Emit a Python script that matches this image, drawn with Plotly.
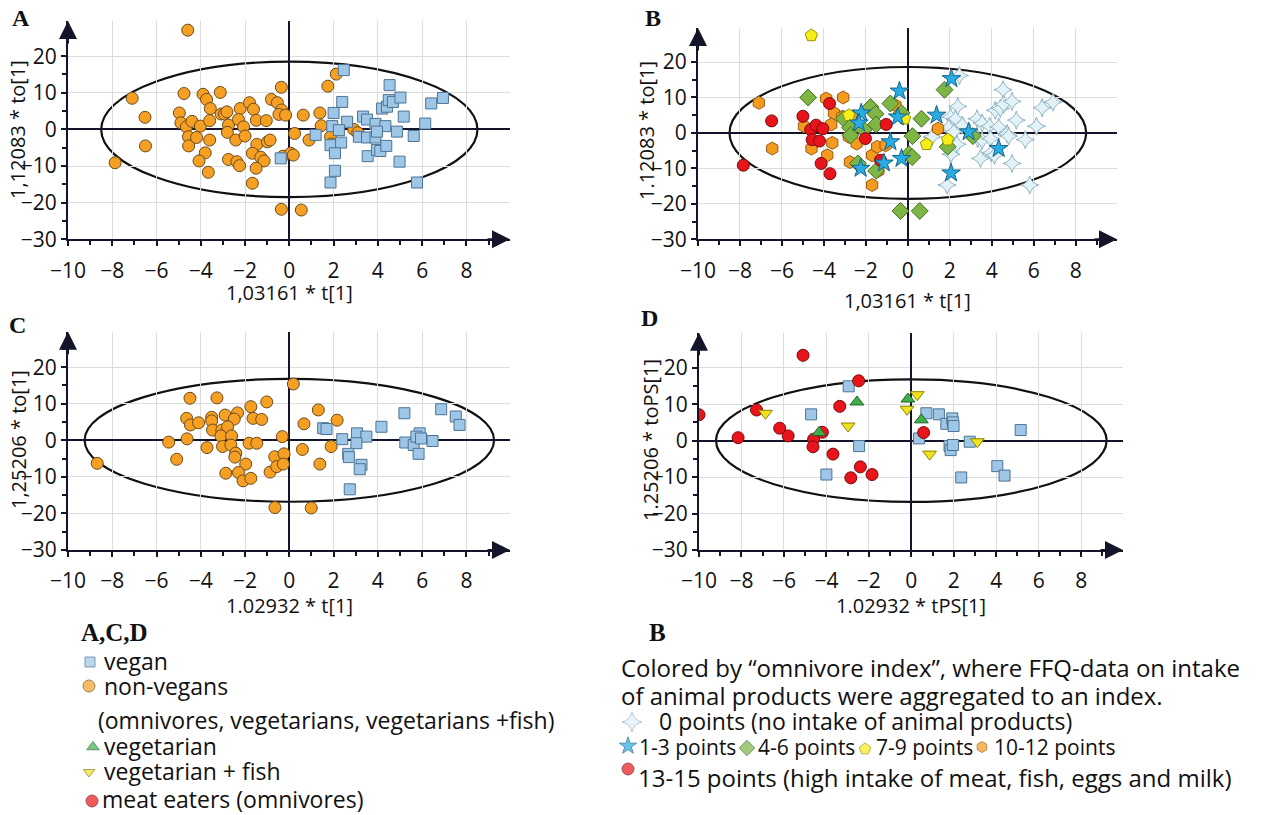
import plotly.graph_objects as go

W, H = 1268, 815
FONT = "Open Sans"
SERIF = "Liberation Serif"
AX = "#14142b"

# ---------------- Panel A (colored by vegan / non-vegan) ----------------
A_nonvegan_x = [-4.59, -7.1, -6.52, -6.5, -7.87, -4.76, -4.97, -4.9, -4.65, -4.4, -4.56, -4.55, -4.19, -4.02,
                -3.9, -3.74, -3.57, -3.6, -3.6, -3.8, -4.08, -3.66, -3.12, -3.08, -2.93, -2.82, -2.75, -2.8,
                -2.42, -2.75, -2.37, -2.25, -2.22, -2.3, -2.07, -2.0, -1.8, -1.62, -1.49, -1.47, -1.67, -1.29,
                -1.14, -1.5, -1.67, -1.04, -0.99, -0.87, -0.81, -0.54, -0.36, -0.35, -0.47, -0.17, -0.29, 0.06,
                0.18, 0.24, -0.36, 0.54, 0.63, 0.89, 1.38, 1.44, 1.74, 2.12, 1.86, 1.9, 2.91, 3.09]
A_nonvegan_y = [27.1, 8.5, 3.3, -4.5, -9.1, 9.8, 4.5, 1.8, 0.7, 2.2, -2.0, -4.5, -2.2, 0.9,
                9.6, 8.2, 5.7, 2.4, -2.9, -6.4, -8.6, -11.7, 10.1, 4.2, 4.2, 4.8, 1.2, -0.8,
                -2.9, -8.2, -8.8, -9.9, 5.7, 2.7, 0.7, -1.8, 7.3, 5.5, 2.5, -4.1, -6.5, -7.6,
                -8.6, -10.6, -14.7, 2.4, -3.4, -2.9, 8.2, 7.3, 11.5, 5.3, 4.1, 3.9, -7.3, -6.5,
                -7.0, -1.1, -21.8, -22.0, 3.9, -2.9, 4.5, 1.0, 11.8, 15.1, -2.0, -4.0, 0.0, -0.9]
A_vegan_x = [2.46, 4.53, 2.39, 2.0, 2.61, 1.94, 2.24, 1.19, 1.86, 2.34, 2.06, 2.06, 1.86, -0.39, 3.33,
             3.51, 3.14, 3.51, 3.54, 3.89, 3.89, 3.96, 4.11, 4.19, 4.41, 4.49, 4.68, 4.34, 4.38, 5.02,
             5.17, 4.86, 4.98, 5.62, 5.77, 6.14, 6.41, 6.94, 3.96]
A_vegan_y = [16.2, 12.1, 7.5, 4.5, 2.1, 0.9, -0.2, -1.5, -4.3, -3.6, -6.5, -11.3, -14.5, -7.9, 3.5,
             2.7, -2.0, -2.2, -7.3, 1.5, -2.2, -5.6, -5.9, 5.7, 6.2, 8.0, 7.5, 0.9, -4.5, 8.7,
             3.5, -0.6, -8.8, -1.8, -14.5, 1.6, 7.1, 8.6, -0.6]

# ---------------- Panel B (omnivore index) ----------------
B_p0_x = [2.46, 4.54, 2.38, 2.03, 2.27, 1.95, 2.59, 2.19, 1.16, 2.35, 2.06, 1.87, 3.3, 3.54, 3.33, 3.54,
          3.46, 3.9, 3.94, 3.97, 4.13, 4.17, 4.41, 4.57, 4.97, 4.33, 4.73, 4.81, 4.97, 5.17, 5.6, 5.81,
          6.13, 6.4, 6.92]
B_p0_y = [16.2, 12.2, 7.5, 4.5, 4.0, 1.5, 2.2, 0.3, -1.1, -3.2, -6.0, -14.7, 4.0, 2.8, -1.6, -2.1,
          -7.2, 1.9, -1.6, -5.6, -6.3, 6.4, 6.9, 8.1, 8.9, 1.7, -0.2, -0.9, -8.6, 3.6, -1.9, -14.7,
          1.9, 7.1, 8.7]
B_p1_3_x = [-0.4, -0.48, -2.22, -2.33, -2.25, -0.83, -1.14, -0.3, 1.37, 2.08, 2.06, 2.9, 4.33]
B_p1_3_y = [11.8, 4.5, 5.6, 2.8, -10.0, -2.5, -8.5, -7.2, 5.0, 15.3, -11.3, 0.3, -4.4]
B_p4_6_x = [-4.75, -3.05, -2.76, -2.73, -2.1, -1.78, -1.54, -1.51, -2.38, -1.51, -0.83, -0.3, 0.65, 0.22,
            0.05, 0.21, -0.35, 0.57, 1.75, 1.9, 3.1]
B_p4_6_y = [10.0, 4.0, 1.5, -0.7, 0.9, 7.3, 5.4, 2.4, -8.6, -10.7, 8.3, 5.6, 4.0, -0.9,
            -6.0, -6.8, -22.0, -22.0, 12.2, -3.9, -0.9]
B_p7_9_x = [-4.6, -2.81, -0.16, 0.89, 1.9]
B_p7_9_y = [27.5, 5.0, 4.0, -3.2, -1.9]
B_p10_12_x = [-7.1, -6.46, -4.95, -4.59, -3.89, -3.52, -3.65, -3.6, -3.84, -3.08, -3.13, -2.81, -2.76,
              -2.44, -2.57, -1.7, -1.7, -1.46, -1.41, -1.06, -0.59, 1.44]
B_p10_12_y = [8.5, -4.4, 1.9, -4.4, 9.7, 5.6, 2.4, -2.8, -6.3, 10.0, 4.5, -1.1, -8.2,
              -3.0, 4.7, -14.7, -6.3, -3.9, -10.7, -3.5, 7.8, 1.2]
B_p13_15_x = [-7.84, -6.49, -5.0, -4.63, -4.37, -4.56, -4.21, -4.05, -3.73, -4.13, -3.71, -2.02, -1.03, -1.3]
B_p13_15_y = [-9.1, 3.4, 4.7, 0.9, 2.2, -1.9, -2.3, 1.2, 8.3, -8.6, -11.5, -1.6, 2.4, -7.7]

# ---------------- Panel C ----------------
C_nonvegan_x = [0.18, -4.49, -3.27, -1.02, -1.74, 1.31, -4.64, -4.47, -4.1, -3.51, -3.51, -2.9, -2.34, -2.49,
                -1.64, -1.25, 0.66, 2.16, -3.47, -3.05, -2.79, -3.09, -2.61, -5.45, -4.62, -3.72, -3.02,
                -2.64, -1.82, -1.47, -0.32, -5.09, -2.42, -2.46, -1.97, -2.87, -2.3, -2.09, -1.74, -0.87,
                -0.66, -0.57, -0.24, -0.27, 0.59, 1.38, 1.89, -0.65, 0.99, -8.68]
C_nonvegan_y = [15.4, 11.5, 11.6, 10.5, 9.2, 8.3, 6.0, 4.2, 4.8, 6.3, 5.3, 6.9, 7.5, 5.8,
                6.0, 5.7, 4.5, 5.5, 2.8, 2.8, 3.7, 1.2, 1.2, -0.5, 0.4, -2.0, -1.7,
                -1.3, -0.8, -0.8, 1.0, -5.2, -3.5, -4.6, -6.5, -9.0, -8.8, -11.1, -10.4, -8.7,
                -4.5, -7.2, -3.7, -6.5, -2.5, -6.5, -1.7, -18.4, -18.5, -6.3]
C_vegan_x = [5.2, 6.86, 7.52, 7.69, 1.53, 1.68, 4.16, 2.39, 3.06, 3.48, 3.03, 2.66, 2.69, 3.26, 3.18,
             2.73, 5.24, 5.62, 5.89, 5.74, 5.95, 5.84, 6.47]
C_vegan_y = [7.4, 8.5, 6.5, 4.2, 3.3, 3.1, 3.7, 0.3, 1.9, 1.0, -0.8, -3.7, -4.6, -6.7, -7.9,
             -13.4, -0.6, -1.3, 1.9, 1.0, 0.5, -3.7, -0.2]

# ---------------- Panel D ----------------
D_meat_x = [-5.1, -2.48, -7.29, -3.37, -10.0, -6.2, -5.8, -8.16, -4.6, -4.19, -4.63, -3.69, -2.4, -2.85, -1.85, 0.58]
D_meat_y = [23.4, 16.4, 8.4, 9.4, 7.1, 3.4, 1.3, 0.8, 0.4, 2.3, -1.7, -3.7, -7.2, -10.2, -9.3, 2.2]
D_veg_x = [-2.56, -0.16, 0.47, -4.35]
D_veg_y = [10.6, 11.4, 5.7, 2.2]
D_vegfish_x = [-6.87, 0.28, -0.2, -2.98, 0.86, 3.11]
D_vegfish_y = [7.5, 12.6, 8.6, 4.0, -3.7, -0.3]
D_vegan_x = [-2.95, -4.72, -2.46, -4.0, 0.36, 0.71, 1.3, 1.65, 1.93, 1.96, 1.99, 1.8, 1.85, 1.96, 2.75,
             2.35, 4.05, 4.39, 5.15]
D_vegan_y = [14.9, 7.2, -1.5, -9.3, 0.6, 7.5, 7.2, 4.6, 6.1, 5.0, 4.0, -1.5, -2.6, -1.2, -0.3,
             -10.1, -7.0, -9.6, 2.9]

# Hotelling T2 ellipse semi-axes (t, to) per panel
ELLIPSE = {"A": (8.5, 18.5), "B": (8.5, 18.6), "C": (9.25, 16.8), "D": (9.2, 16.8)}

X_TITLES = {"A": "1,03161 * t[1]", "B": "1,03161 * t[1]", "C": "1.02932 * t[1]", "D": "1.02932 * tPS[1]"}
Y_TITLES = {"A": "1,12083 * to[1]", "B": "1.12083 * to[1]", "C": "1,25206 * to[1]", "D": "1.25206 * toPS[1]"}

# ---------------- styles ----------------
ORANGE = dict(color="#F5A023", line=dict(color="#6b4a1e", width=1))
BLUESQ = dict(color="#9EC6E6", line=dict(color="#4d7394", width=1))
RED = dict(color="#E8141B", line=dict(color="#7a0a0a", width=1))

# panel pixel boxes: (left, right, top, bottom)
BOX = {"A": (68, 510, 21, 239.3), "B": (698, 1117, 28, 239.3),
       "C": (68, 510, 331.7, 550), "D": (699, 1123, 332.7, 550)}
YTOP = {"A": 29.6, "B": 29.6, "C": 29.7, "D": 29.6}
XR = 9.97
AXN = {"A": ("x", "y"), "B": ("x2", "y2"), "C": ("x3", "y3"), "D": ("x4", "y4")}

fig = go.Figure()


def add(panel, xs, ys, symbol, size, style, name):
    xa, ya = AXN[panel]
    fig.add_trace(go.Scatter(x=xs, y=ys, mode="markers", xaxis=xa, yaxis=ya, name=name, showlegend=False,
                             marker=dict(symbol=symbol, size=size, **style)))


add("A", A_nonvegan_x, A_nonvegan_y, "circle", 12, ORANGE, "non-vegans")
add("A", A_vegan_x, A_vegan_y, "square", 11, BLUESQ, "vegan")

add("B", B_p0_x, B_p0_y, "star-diamond", 13, dict(color="#E3F2F7", line=dict(color="#8fb2c4", width=1)), "0 points")
add("B", B_p10_12_x, B_p10_12_y, "hexagon", 13, dict(color="#F49A1F", line=dict(color="#9a5a12", width=1)), "10-12 points")
add("B", B_p4_6_x, B_p4_6_y, "diamond", 13, dict(color="#7DB644", line=dict(color="#466e22", width=1)), "4-6 points")
add("B", B_p7_9_x, B_p7_9_y, "pentagon", 13, dict(color="#F6EE17", line=dict(color="#9a9200", width=1)), "7-9 points")
add("B", B_p13_15_x, B_p13_15_y, "circle", 12, RED, "13-15 points")
add("B", B_p1_3_x, B_p1_3_y, "star", 14, dict(color="#27ADE4", line=dict(color="#15628a", width=1)), "1-3 points")

add("C", C_nonvegan_x, C_nonvegan_y, "circle", 12, ORANGE, "non-vegans")
add("C", C_vegan_x, C_vegan_y, "square", 11, BLUESQ, "vegan")

add("D", D_vegan_x, D_vegan_y, "square", 11, BLUESQ, "vegan")
add("D", D_meat_x, D_meat_y, "circle", 12, RED, "meat eaters")
add("D", D_veg_x, D_veg_y, "triangle-up", 12, dict(color="#3DAF4A", line=dict(color="#24652a", width=1)), "vegetarian")
add("D", D_vegfish_x, D_vegfish_y, "triangle-down", 12, dict(color="#F0E21E", line=dict(color="#8a8200", width=1)), "vegetarian + fish")

layout = dict(template="none", width=W, height=H, margin=dict(l=0, r=0, t=0, b=0, pad=0, autoexpand=False),
              paper_bgcolor="white", plot_bgcolor="rgba(0,0,0,0)", showlegend=False,
              font=dict(family=FONT, color="#111"))

shapes, annotations = [], []
for i, p in enumerate(["A", "B", "C", "D"]):
    l, r, t, b = BOX[p]
    sfx = "" if i == 0 else str(i + 1)
    xa, ya = AXN[p]
    common = dict(showgrid=True, gridcolor="#dcdcdc", gridwidth=1, zeroline=True, zerolinecolor=AX,
                  zerolinewidth=2, showline=True, linecolor=AX, linewidth=2, ticks="outside", ticklen=5,
                  tickwidth=2, tickcolor=AX, tickfont=dict(family=FONT, size=21, color="#111"),
                  fixedrange=True, automargin=False)
    layout["xaxis" + sfx] = dict(common, domain=[l / W, r / W], range=[-10, XR], dtick=2, tick0=0,
                                 anchor=ya, ticklabelstandoff=6,
                                 minor=dict(dtick=1, ticks="outside", ticklen=4, tickwidth=2, tickcolor=AX,
                                            showgrid=False))
    layout["yaxis" + sfx] = dict(common, domain=[1 - b / H, 1 - t / H], range=[-30, YTOP[p]], dtick=10,
                                 tick0=0, anchor=xa,
                                 minor=dict(dtick=5, ticks="outside", ticklen=4, tickwidth=2, tickcolor=AX,
                                            showgrid=False))
    a, bb = ELLIPSE[p]
    shapes.append(dict(type="circle", xref=xa, yref=ya, x0=-a, x1=a, y0=-bb, y1=bb,
                       line=dict(color="#111", width=2.2), layer="below"))
    # axis arrows
    annotations.append(dict(x=-10, y=YTOP[p], xref=xa, yref=ya, ax=0, ay=24, showarrow=True, text="",
                            arrowhead=2, arrowsize=1.8, arrowwidth=2, arrowcolor=AX))
    annotations.append(dict(x=XR, y=-30, xref=xa, yref=ya, ax=-24, ay=0, showarrow=True, text="",
                            arrowhead=2, arrowsize=1.8, arrowwidth=2, arrowcolor=AX))


def ann(text, px, py, size=21, xanchor="left", family=FONT, bold=False, angle=0, color="#111"):
    annotations.append(dict(text=("<b>%s</b>" % text) if bold else text, x=px / W, y=1 - py / H,
                            xref="paper", yref="paper", xanchor=xanchor, yanchor="middle", showarrow=False,
                            textangle=angle, borderpad=0, font=dict(family=family, size=size, color=color)))


# axis titles
ann(X_TITLES["A"], 289, 293, 20, "center")
ann(X_TITLES["B"], 907, 300, 20, "center")
ann(X_TITLES["C"], 289, 605, 20, "center")
ann(X_TITLES["D"], 911, 605, 20, "center")
ann(Y_TITLES["A"], 18, 130, 20, "center", angle=-90)
ann(Y_TITLES["B"], 647, 131, 20, "center", angle=-90)
ann(Y_TITLES["C"], 18, 440, 20, "center", angle=-90)
ann(Y_TITLES["D"], 650, 440, 20, "center", angle=-90)

# panel letters
ann("A", 11, 18, 24, family=SERIF, bold=True)
ann("B", 644, 18, 24, family=SERIF, bold=True)
ann("C", 8, 325, 24, family=SERIF, bold=True)
ann("D", 640, 318, 24, family=SERIF, bold=True)

# legend texts (left)
ann("A,C,D", 80, 632, 25, family=SERIF, bold=True)
ann("vegan", 103, 661, 23)
ann("non-vegans", 103, 686, 23)
ann("(omnivores, vegetarians, vegetarians +fish)", 97, 720, 23)
ann("vegetarian", 103, 746, 23)
ann("vegetarian + fish", 103, 771, 23)
ann("meat eaters (omnivores)", 101, 799, 23)

# legend texts (right)
ann("B", 648, 632, 25, family=SERIF, bold=True)
ann("Colored by \u201comnivore index\u201d, where FFQ-data on intake", 620, 667, 24)
ann("of animal products were aggregated to an index.", 620, 695, 24)
ann("0 points (no intake of animal products)", 658, 721, 23)
ann("1-3 points", 638, 747, 21)
ann("4-6 points", 757, 747, 21)
ann("7-9 points", 875, 747, 21)
ann("10-12 points", 993, 747, 21)
ann("13-15 points (high intake of meat, fish, eggs and milk)", 637, 777, 24)

layout["shapes"] = shapes
layout["annotations"] = annotations

# overlay axis in pixel units for the legend glyphs
layout["xaxis5"] = dict(domain=[0, 1], range=[0, W], visible=False, fixedrange=True, anchor="y5", automargin=False)
layout["yaxis5"] = dict(domain=[0, 1], range=[H, 0], visible=False, fixedrange=True, anchor="x5", automargin=False)

LEG_SYMBOLS = ["square", "circle", "triangle-up", "triangle-down", "circle",
               "star-diamond", "star", "diamond", "pentagon", "hexagon", "circle"]
LEG_PX = [90, 89, 93, 89, 92, 632, 628, 747, 865, 982, 628]
LEG_PY = [662, 686, 747, 772, 801, 722, 746, 748, 749, 747, 769]
LEG_SIZE = [10, 12, 11, 10, 12, 14, 13, 12, 12, 11, 12]
LEG_FILL = ["#9EC6E6", "#F5A023", "#3DAF4A", "#F0E21E", "#E8141B",
            "#E3F2F7", "#27ADE4", "#7DB644", "#F6EE17", "#F49A1F", "#E8141B"]
LEG_LINE = ["#4d7394", "#6b4a1e", "#24652a", "#8a8200", "#7a0a0a",
            "#8fb2c4", "#15628a", "#466e22", "#9a9200", "#9a5a12", "#7a0a0a"]
fig.add_trace(go.Scatter(x=LEG_PX, y=LEG_PY, mode="markers", xaxis="x5", yaxis="y5", showlegend=False,
                         hoverinfo="skip", cliponaxis=False,
                         marker=dict(symbol=LEG_SYMBOLS, size=LEG_SIZE, color=LEG_FILL,
                                     line=dict(color=LEG_LINE, width=1))))

fig.update_layout(**layout)
fig.write_html("out.html")
